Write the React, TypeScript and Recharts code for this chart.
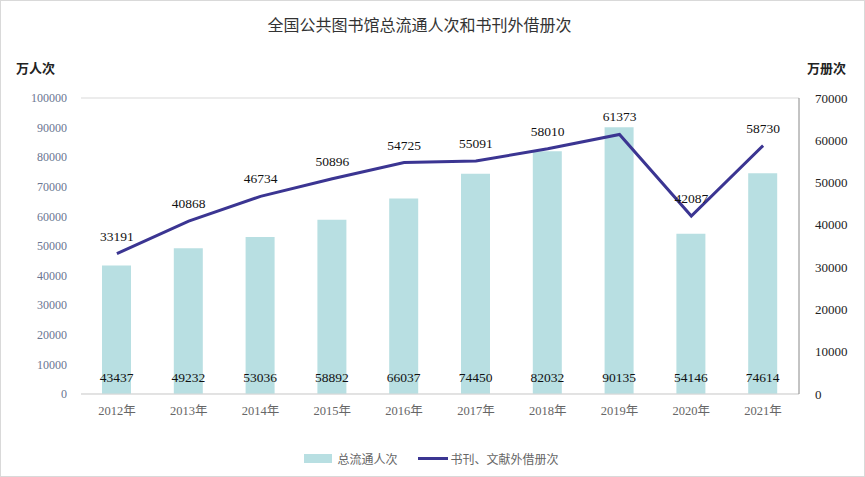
import React from "react";
import {
  ComposedChart,
  Bar,
  Line,
  XAxis,
  YAxis,
  CartesianGrid,
  LabelList,
} from "recharts";

const years = ["2012年", "2013年", "2014年", "2015年", "2016年", "2017年", "2018年", "2019年", "2020年", "2021年"];
const visits = [43437, 49232, 53036, 58892, 66037, 74450, 82032, 90135, 54146, 74614];
const loans = [33191, 40868, 46734, 50896, 54725, 55091, 58010, 61373, 42087, 58730];
const leftTicks = [0, 10000, 20000, 30000, 40000, 50000, 60000, 70000, 80000, 90000, 100000];
const rightTicks = [0, 10000, 20000, 30000, 40000, 50000, 60000, 70000];

const BAR_COLOR = "#b8dfe2";
const LINE_COLOR = "#3b3592";
const SERIF = "'Liberation Serif', 'Noto Sans CJK SC', serif";
const CJK = "'Noto Sans CJK SC', sans-serif";

const data = years.map((y, i) => ({ year: y, visits: visits[i], loans: loans[i] }));

// bar values sit just above the baseline, inside the bar
function BarValue(props: any) {
  const { x, width, value } = props;
  return (
    <text
      x={x + width / 2}
      y={381}
      textAnchor="middle"
      fontFamily={SERIF}
      fontSize={13.5}
      fill="#111"
    >
      {value}
    </text>
  );
}

export default function App() {
  return (
    <div
      style={{
        position: "absolute",
        left: 0,
        top: 0,
        width: 865,
        height: 477,
        background: "#fff",
        boxSizing: "border-box",
        border: "1px solid #d9d9d9",
      }}
    >
      <div
        style={{
          position: "absolute",
          top: 11,
          left: -14,
          width: 865,
          textAlign: "center",
          fontFamily: CJK,
          fontSize: 16,
          color: "#333",
        }}
      >
        全国公共图书馆总流通人次和书刊外借册次
      </div>
      <div
        style={{ position: "absolute", top: 57, left: 15, fontFamily: CJK, fontSize: 13, fontWeight: 700, color: "#222" }}
      >
        万人次
      </div>
      <div
        style={{ position: "absolute", top: 57, left: 806, fontFamily: CJK, fontSize: 13, fontWeight: 700, color: "#222" }}
      >
        万册次
      </div>
      <ComposedChart
        width={865}
        height={477}
        data={data}
        margin={{ top: 97, right: 7, bottom: 54, left: 20 }}
        style={{ position: "absolute", left: 0, top: 0 }}
      >
        <CartesianGrid vertical={false} stroke="#d9d9d9" />
        <XAxis
          dataKey="year"
          height={30}
          axisLine={{ stroke: "#d9d9d9" }}
          tickLine={false}
          tick={{ fontFamily: SERIF, fontSize: 12.5, fill: "#666" }}
          tickMargin={6}
        />
        <YAxis
          yAxisId="left"
          width={60}
          domain={[0, 100000]}
          ticks={leftTicks}
          axisLine={false}
          tickLine={false}
          tick={{ fontFamily: SERIF, fontSize: 12, fill: "#6a7591" }}
          tickMargin={8}
          interval={0}
        />
        <YAxis
          yAxisId="right"
          orientation="right"
          width={60}
          domain={[0, 70000]}
          ticks={rightTicks}
          axisLine={{ stroke: "#888" }}
          tickLine={false}
          tick={{ fontFamily: SERIF, fontSize: 13, fill: "#222" }}
          tickMargin={10}
          interval={0}
        />
        <Bar yAxisId="left" dataKey="visits" fill={BAR_COLOR} barSize={29} isAnimationActive={false}>
          <LabelList dataKey="visits" content={<BarValue />} />
        </Bar>
        <Line
          yAxisId="right"
          dataKey="loans"
          stroke={LINE_COLOR}
          strokeWidth={3}
          dot={false}
          isAnimationActive={false}
        >
          <LabelList
            dataKey="loans"
            position="top"
            offset={13}
            style={{ fontFamily: SERIF, fontSize: 13.5, fill: "#111" }}
          />
        </Line>
      </ComposedChart>
      <div
        style={{
          position: "absolute",
          top: 449,
          left: -2,
          width: 865,
          display: "flex",
          justifyContent: "center",
          alignItems: "center",
          gap: 20,
          fontFamily: CJK,
          fontSize: 12,
          color: "#666",
        }}
      >
        <span style={{ display: "flex", alignItems: "center", gap: 5 }}>
          <span style={{ display: "inline-block", width: 28, height: 9, background: BAR_COLOR }} />
          总流通人次
        </span>
        <span style={{ display: "flex", alignItems: "center", gap: 3 }}>
          <span style={{ display: "inline-block", width: 30, height: 3, background: LINE_COLOR }} />
          书刊、文献外借册次
        </span>
      </div>
    </div>
  );
}
